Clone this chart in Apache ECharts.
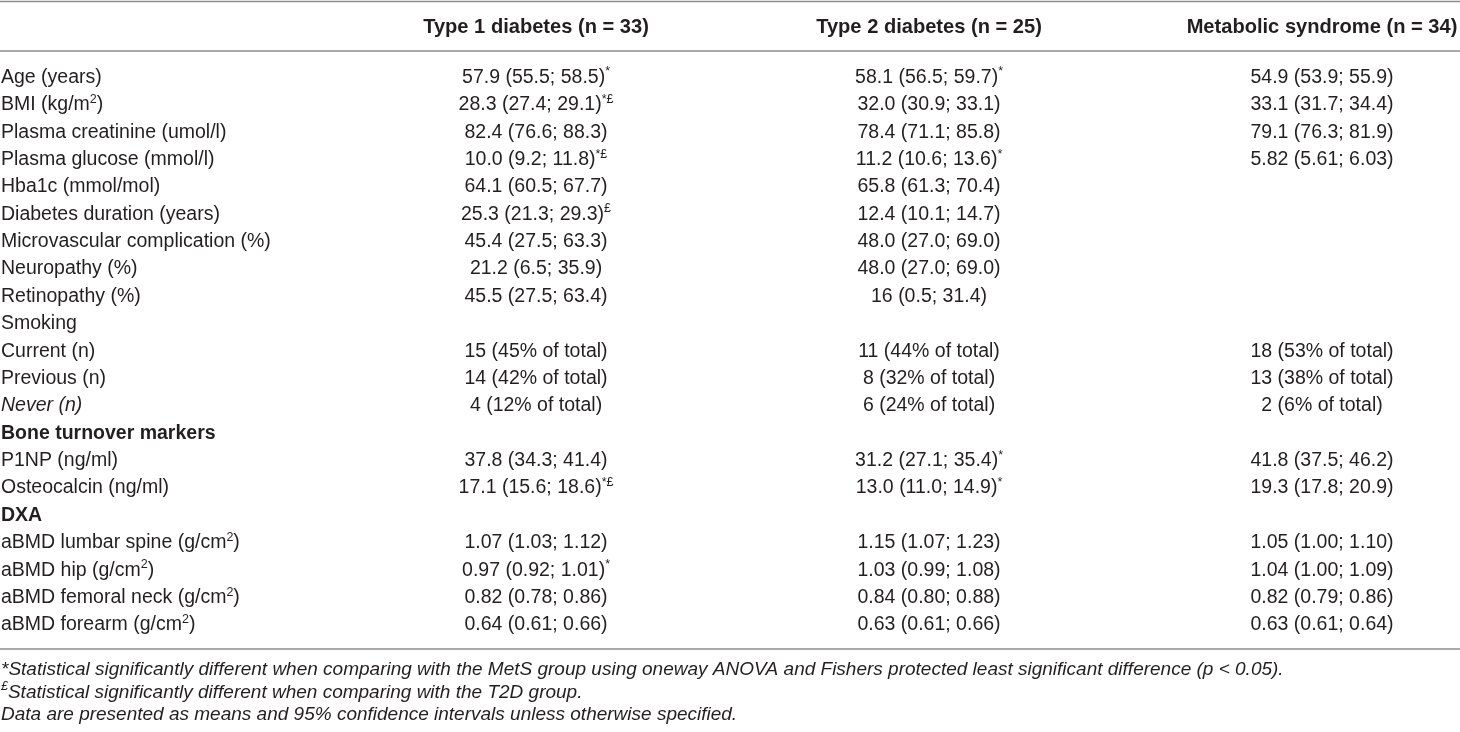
<!DOCTYPE html>
<html>
<head>
<meta charset="utf-8">
<script src="https://cdn.jsdelivr.net/npm/echarts@6/dist/echarts.min.js"></script>
<style>
html,body{margin:0;padding:0;background:#ffffff;}
#chart{width:1460px;height:732px;}
</style>
</head>
<body>
<div id="chart"></div>
<script>
// ---------- data ----------
const columnHeaders = ['Type 1 diabetes (n = 33)', 'Type 2 diabetes (n = 25)', 'Metabolic syndrome (n = 34)'];

const rowLabels = [
  'Age (years)',
  'BMI (kg/m{s|2})',
  'Plasma creatinine (umol/l)',
  'Plasma glucose (mmol/l)',
  'Hba1c (mmol/mol)',
  'Diabetes duration (years)',
  'Microvascular complication (%)',
  'Neuropathy (%)',
  'Retinopathy (%)',
  'Smoking',
  'Current (n)',
  'Previous (n)',
  '{i|Never (n)}',
  '{b|Bone turnover markers}',
  'P1NP (ng/ml)',
  'Osteocalcin (ng/ml)',
  '{b|DXA}',
  'aBMD lumbar spine (g/cm{s|2})',
  'aBMD hip (g/cm{s|2})',
  'aBMD femoral neck (g/cm{s|2})',
  'aBMD forearm (g/cm{s|2})'
];

const type1Values = [
  '57.9 (55.5; 58.5){s|*}',
  '28.3 (27.4; 29.1){s|*£}',
  '82.4 (76.6; 88.3)',
  '10.0 (9.2; 11.8){s|*£}',
  '64.1 (60.5; 67.7)',
  '25.3 (21.3; 29.3){s|£}',
  '45.4 (27.5; 63.3)',
  '21.2 (6.5; 35.9)',
  '45.5 (27.5; 63.4)',
  '',
  '15 (45% of total)',
  '14 (42% of total)',
  '4 (12% of total)',
  '',
  '37.8 (34.3; 41.4)',
  '17.1 (15.6; 18.6){s|*£}',
  '',
  '1.07 (1.03; 1.12)',
  '0.97 (0.92; 1.01){s|*}',
  '0.82 (0.78; 0.86)',
  '0.64 (0.61; 0.66)'
];

const type2Values = [
  '58.1 (56.5; 59.7){s|*}',
  '32.0 (30.9; 33.1)',
  '78.4 (71.1; 85.8)',
  '11.2 (10.6; 13.6){s|*}',
  '65.8 (61.3; 70.4)',
  '12.4 (10.1; 14.7)',
  '48.0 (27.0; 69.0)',
  '48.0 (27.0; 69.0)',
  '16 (0.5; 31.4)',
  '',
  '11 (44% of total)',
  '8 (32% of total)',
  '6 (24% of total)',
  '',
  '31.2 (27.1; 35.4){s|*}',
  '13.0 (11.0; 14.9){s|*}',
  '',
  '1.15 (1.07; 1.23)',
  '1.03 (0.99; 1.08)',
  '0.84 (0.80; 0.88)',
  '0.63 (0.61; 0.66)'
];

const metsValues = [
  '54.9 (53.9; 55.9)',
  '33.1 (31.7; 34.4)',
  '79.1 (76.3; 81.9)',
  '5.82 (5.61; 6.03)',
  '',
  '',
  '',
  '',
  '',
  '',
  '18 (53% of total)',
  '13 (38% of total)',
  '2 (6% of total)',
  '',
  '41.8 (37.5; 46.2)',
  '19.3 (17.8; 20.9)',
  '',
  '1.05 (1.00; 1.10)',
  '1.04 (1.00; 1.09)',
  '0.82 (0.79; 0.86)',
  '0.63 (0.61; 0.64)'
];

const footnotes = [
  '{i|*Statistical significantly different when comparing with the MetS group using oneway ANOVA and Fishers protected least significant difference (p < 0.05).}',
  '{si|£}{i|Statistical significantly different when comparing with the T2D group.}',
  '{i|Data are presented as means and 95% confidence intervals unless otherwise specified.}'
];

// ---------- layout / style ----------
const FONT = "'Liberation Sans', Arial, Helvetica, sans-serif";
const TEXT = '#231f20';
const RULE = '#8c8c8c';
const SIZE = 19.5;
const HEAD_SIZE = 20.1;
const FOOT_SIZE = 19;
const HEADER_ROW = -1.845;
const RULE_ROWS = [-2.776, -0.968, 20.877];
const FOOT_ROWS = [21.644, 22.466, 23.288];

function rich(size) {
  const base = {fontFamily: FONT, fontSize: size, lineHeight: 24, fill: TEXT};
  return {
    s: {fontFamily: FONT, fontSize: 12.5, lineHeight: 12, verticalAlign: 'top', fill: TEXT},
    si: {fontFamily: FONT, fontSize: 12.5, lineHeight: 12, verticalAlign: 'top', fontStyle: 'italic', fill: TEXT},
    i: Object.assign({}, base, {fontStyle: 'italic'}),
    b: Object.assign({}, base, {fontWeight: 'bold'})
  };
}

function textEl(x, y, text, align, bold, size) {
  return {
    type: 'text',
    x: x, y: y,
    silent: true,
    style: {
      text: text,
      x: 0, y: 0,
      align: align,
      verticalAlign: 'middle',
      fontFamily: FONT,
      fontSize: size,
      fontWeight: bold ? 'bold' : 'normal',
      lineHeight: 24,
      fill: TEXT,
      rich: rich(size)
    }
  };
}

// cells built from arrays
const valueColumns = [type1Values, type2Values, metsValues];
const cellData = [];
const cellText = [];
valueColumns.forEach(function (col, c) {
  col.forEach(function (v, r) {
    if (v) { cellData.push([c, r]); cellText.push(v); }
  });
});

const chart = echarts.init(document.getElementById('chart'), null, {renderer: 'canvas'});
chart.setOption({
  animation: false,
  backgroundColor: '#ffffff',
  grid: {left: 0, right: 0, top: 0, bottom: 0, containLabel: false},
  xAxis: {type: 'value', min: -1.3639, max: 2.3511, show: false},
  yAxis: {type: 'value', inverse: true, min: -2.831, max: 23.909, show: false},
  series: [
    {
      type: 'custom', name: 'rules',
      data: RULE_ROWS.map(function (r) { return [0, r]; }),
      renderItem: function (params, api) {
        const cs = params.coordSys;
        const y = api.coord([0, api.value(1)])[1];
        return {type: 'line', silent: true,
          shape: {x1: cs.x, y1: y, x2: cs.x + cs.width, y2: y},
          style: {stroke: RULE, lineWidth: 1.6}};
      }
    },
    {
      type: 'custom', name: 'headers',
      data: columnHeaders.map(function (h, i) { return [i, HEADER_ROW]; }),
      renderItem: function (params, api) {
        const p = api.coord([api.value(0), api.value(1)]);
        return textEl(p[0], p[1], columnHeaders[params.dataIndex], 'center', true, HEAD_SIZE);
      }
    },
    {
      type: 'custom', name: 'labels',
      data: rowLabels.map(function (l, i) { return [0, i]; }),
      renderItem: function (params, api) {
        const p = api.coord([0, api.value(1)]);
        return textEl(params.coordSys.x + 1, p[1], rowLabels[params.dataIndex], 'left', false, SIZE);
      }
    },
    {
      type: 'custom', name: 'values',
      data: cellData,
      renderItem: function (params, api) {
        const p = api.coord([api.value(0), api.value(1)]);
        return textEl(p[0], p[1], cellText[params.dataIndex], 'center', false, SIZE);
      }
    },
    {
      type: 'custom', name: 'footnotes',
      data: FOOT_ROWS.map(function (r) { return [0, r]; }),
      renderItem: function (params, api) {
        const p = api.coord([0, api.value(1)]);
        return textEl(params.coordSys.x + 1, p[1], footnotes[params.dataIndex], 'left', false, FOOT_SIZE);
      }
    }
  ]
});
</script>
</body>
</html>
